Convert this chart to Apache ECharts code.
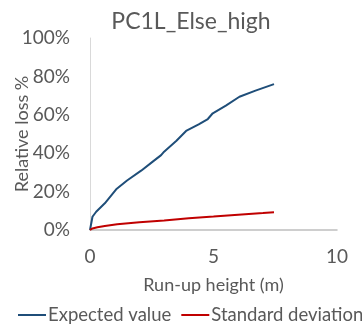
<!DOCTYPE html>
<html><head><meta charset="utf-8">
<script src="https://cdn.jsdelivr.net/npm/echarts@6/dist/echarts.min.js"></script>
<style>html,body{margin:0;padding:0;background:#fff}#c{width:362px;height:328px}</style>
</head><body><div id="c"></div>
<script>
const titleText = "PC1L_Else_high";
const xAxisName = "Run-up height (m)";
const yAxisName = "Relative loss %";
const seriesNames = ["Expected value", "Standard deviation"];
const expectedX = [0, 0.1, 0.25, 0.6, 1.06, 1.5, 2.07, 2.54, 2.88, 3.0, 3.5, 3.89, 4.4, 4.77, 4.97, 5.5, 6.05, 6.7, 7.45];
const expectedY = [0, 6.9, 9.5, 13.9, 21.2, 25.8, 30.9, 35.6, 39.0, 40.8, 46.5, 51.6, 55.0, 57.8, 60.8, 64.8, 69.4, 72.6, 76.0];
const stdX = [0, 0.1, 0.3, 0.6, 1.1, 2, 3, 4, 5, 6, 7, 7.45];
const stdY = [0, 0.8, 1.4, 2.1, 3.0, 4.0, 5.0, 6.1, 7.0, 8.0, 8.8, 9.2];
const colors = ["#1f4e79", "#c00000"];
const font = "Lato, sans-serif";
const txt = "#595959";

const chart = echarts.init(document.getElementById('c'));
chart.setOption({
  animation: false,
  title: {text: titleText, left: 186, textAlign: 'center', top: 5,
    textStyle: {fontFamily: font, fontSize: 23, fontWeight: 'normal', color: txt}},
  grid: {left: 90, right: 25, top: 38, bottom: 98, containLabel: false, outerBoundsMode: 'none'},
  legend: {top: 305, left: 18, width: 400, padding: 0, itemWidth: 28, itemHeight: 2, itemGap: 10,
    icon: 'rect',
    textStyle: {fontFamily: font, fontSize: 18.5, lineHeight: 20, color: txt, padding: [0,0,0,-3]},
    data: seriesNames},
  xAxis: {type: 'value', min: 0, max: 10, interval: 5,
    name: xAxisName, nameLocation: 'middle', nameGap: 46, nameMoveOverlap: false,
    nameTextStyle: {fontFamily: font, fontSize: 18, color: txt},
    axisLine: {lineStyle: {color: '#bfbfbf', width: 1.5}},
    axisTick: {show: false}, splitLine: {show: false},
    axisLabel: {fontFamily: font, fontSize: 19, color: txt, margin: 17}},
  yAxis: {type: 'value', min: 0, max: 100, interval: 20,
    name: yAxisName, nameLocation: 'middle', nameGap: 59, nameMoveOverlap: false,
    nameTextStyle: {fontFamily: font, fontSize: 18, color: txt},
    axisLine: {show: true, lineStyle: {color: '#d9d9d9'}},
    axisTick: {show: false}, splitLine: {show: false},
    axisLabel: {fontFamily: font, fontSize: 19, color: txt, margin: 20,
      formatter: v => v + '%'}},
  series: [
    {name: seriesNames[0], type: 'line', showSymbol: false, symbol: 'none',
      lineStyle: {color: colors[0], width: 2}, itemStyle: {color: colors[0]},
      data: expectedX.map((x, i) => [x, expectedY[i]])},
    {name: seriesNames[1], type: 'line', showSymbol: false, symbol: 'none',
      lineStyle: {color: colors[1], width: 2}, itemStyle: {color: colors[1]},
      data: stdX.map((x, i) => [x, stdY[i]])}
  ]
});
</script></body></html>
